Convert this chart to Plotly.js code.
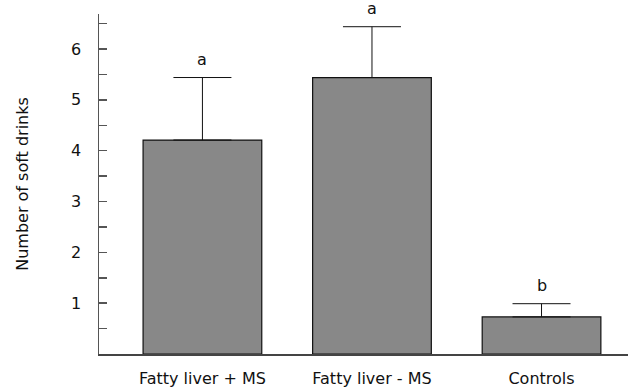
<!DOCTYPE html>
<html>
<head>
<meta charset="utf-8">
<script src="https://cdn.plot.ly/plotly-3.0.1.min.js"></script>
<style>html,body{margin:0;padding:0;background:#fff;}#chart{width:630px;height:389px;}</style>
</head>
<body>
<div id="chart"></div>
<script>
var categories = ["Fatty liver + MS", "Fatty liver - MS", "Controls"];
var means = [4.21, 5.44, 0.73];
var errors = [1.23, 1.00, 0.26];
var letters = ["a", "a", "b"];
var yTicks = [1, 2, 3, 4, 5, 6];

var font = "DejaVu Sans, Verdana, sans-serif";

var trace = {
  type: "bar",
  x: categories,
  y: means,
  width: 0.70,
  marker: {color: "#888888", line: {color: "#111111", width: 1.2}},
  error_y: {
    type: "data",
    symmetric: false,
    array: errors,
    arrayminus: errors.map(function(){return 0;}),
    color: "#111111",
    thickness: 1,
    width: 29
  },
  hoverinfo: "none"
};

var annotations = categories.map(function(c, i){
  return {
    x: c, y: means[i] + errors[i], xref: "x", yref: "y",
    text: letters[i], showarrow: false, yanchor: "middle", yshift: 18,
    font: {family: font, size: 16, color: "#111111"}
  };
});

var layout = {
  width: 630, height: 389,
  margin: {l: 99, r: 2, t: 14, b: 35, pad: 0},
  paper_bgcolor: "#ffffff", plot_bgcolor: "#ffffff",
  showlegend: false,
  xaxis: {
    type: "category",
    range: [-0.61, 2.51],
    showline: true, linecolor: "#444444", linewidth: 1.5,
    ticks: "", showgrid: false, zeroline: false,
    ticklabelstandoff: 9,
    tickfont: {family: font, size: 16, color: "#111111"}
  },
  yaxis: {
    range: [0, 6.69],
    showline: true, linecolor: "#555555", linewidth: 1.5,
    tickmode: "array", tickvals: yTicks,
    ticks: "inside", ticklen: 8, tickcolor: "#555555", tickwidth: 1.5,
    minor: {dtick: 0.5, tick0: 0, ticks: "inside", ticklen: 8, tickcolor: "#555555", tickwidth: 1.5, showgrid: false},
    showgrid: false, zeroline: false,
    ticklabelstandoff: 13,
    tickfont: {family: font, size: 16, color: "#111111"},
    title: {text: "Number of soft drinks", standoff: 38, font: {family: font, size: 16, color: "#111111"}}
  },
  annotations: annotations
};

Plotly.newPlot("chart", [trace], layout, {displayModeBar: false, staticPlot: true});
</script>
</body>
</html>
